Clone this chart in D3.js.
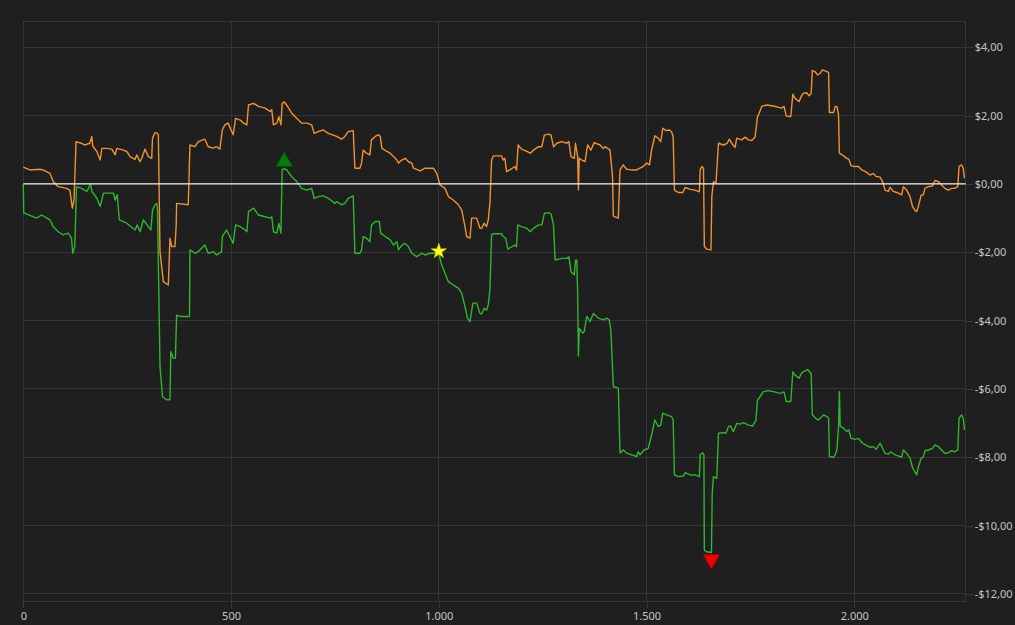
<!DOCTYPE html>
<meta charset="utf-8">
<style>
body { margin: 0; background: #1f1f1f; }
svg { display: block; background: #1f1f1f; }
.grid line { stroke: #353535; stroke-width: 1px; shape-rendering: crispEdges; }
.axis path { display: none; }
.axis line { stroke: #3a3a3a; shape-rendering: crispEdges; }
.axis text { fill: #c4c4c4; font-family: "Segoe UI", "Noto Sans", sans-serif; font-size: 11px; }
.line { fill: none; stroke-width: 1.4px; stroke-linejoin: round; }
</style>
<svg width="1015" height="625"></svg>
<script src="https://d3js.org/d3.v7.min.js"></script>
<script>
// [trade index, cumulative value in $]
var orangeSeries = [
  [0,0.49],[16,0.41],[40,0.43],[47,0.41],[64,0.31],[72,0.07],[84,-0.08],[104,-0.13],[112,-0.18],
  [118,-0.71],[122,-0.47],[127,1.24],[140,1.19],[148,1.14],[160,1.19],[165,1.39],[167,1.11],
  [177,0.95],[185,0.70],[189,1.04],[201,1.04],[213,1.02],[221,0.85],[225,1.04],[241,0.99],
  [249,0.95],[257,0.80],[269,0.72],[273,0.85],[281,0.65],[285,0.75],[293,1.02],[301,0.80],
  [309,0.75],[311,1.34],[317,1.50],[323,1.48],[325,1.43],[329,-1.98],[337,-2.86],[349,-2.96],
  [353,-1.59],[357,-1.83],[365,-1.83],[368,-1.20],[369,-0.57],[397,-0.61],[401,1.14],[413,1.09],
  [421,1.24],[437,1.31],[445,1.09],[457,1.05],[465,1.09],[473,1.02],[479,1.58],[485,1.73],
  [493,1.78],[505,1.44],[511,1.92],[522,1.87],[530,1.78],[538,1.73],[542,2.31],[554,2.36],
  [566,2.27],[582,2.22],[594,2.12],[598,2.17],[602,1.73],[610,1.78],[615,1.97],[620,1.73],
  [623,2.36],[628,2.40],[634,2.31],[646,2.07],[658,1.92],[670,1.78],[682,1.78],[694,1.73],
  [700,1.48],[710,1.53],[722,1.58],[734,1.48],[754,1.39],[766,1.31],[774,1.39],[782,1.53],
  [794,1.56],[798,0.46],[810,0.46],[814,0.61],[818,0.99],[826,0.90],[834,0.85],[838,1.29],
  [847,1.39],[855,1.44],[859,1.39],[863,1.04],[875,0.95],[883,0.90],[891,0.80],[899,0.70],
  [903,0.61],[911,0.70],[919,0.75],[927,0.65],[935,0.61],[939,0.46],[955,0.38],[967,0.46],
  [979,0.46],[987,0.46],[995,0.31],[1003,-0.03],[1015,-0.13],[1023,-0.37],[1035,-0.47],
  [1047,-0.61],[1055,-0.76],[1063,-1.25],[1067,-1.54],[1075,-1.59],[1079,-1.00],[1091,-1.00],
  [1099,-1.30],[1103,-1.30],[1109,-1.15],[1115,-1.25],[1119,-1.05],[1123,-0.57],[1127,0.70],
  [1131,0.82],[1151,0.82],[1155,0.70],[1159,0.75],[1163,0.36],[1171,0.41],[1183,0.51],
  [1187,0.41],[1191,1.14],[1199,1.02],[1212,0.95],[1220,0.90],[1228,0.99],[1240,1.09],
  [1248,1.09],[1254,1.43],[1264,1.46],[1270,1.43],[1276,1.09],[1284,1.19],[1296,1.24],
  [1308,1.19],[1313,1.24],[1318,0.80],[1326,0.75],[1329,1.19],[1334,0.80],[1336,-0.18],
  [1338,0.75],[1344,0.70],[1352,0.65],[1358,1.14],[1366,0.99],[1374,1.21],[1388,1.14],
  [1396,1.04],[1400,1.09],[1412,0.99],[1418,0.22],[1420,-0.94],[1432,-1.00],[1436,0.41],
  [1444,0.56],[1452,0.43],[1464,0.41],[1476,0.41],[1484,0.46],[1492,0.51],[1500,0.61],
  [1507,0.56],[1512,0.99],[1520,1.41],[1528,1.34],[1534,1.24],[1539,1.63],[1547,1.56],
  [1555,1.58],[1560,1.53],[1564,1.39],[1567,-0.18],[1576,-0.25],[1587,-0.25],[1593,-0.10],
  [1605,-0.16],[1617,-0.18],[1627,-0.23],[1629,0.41],[1633,0.51],[1637,0.46],[1639,-1.83],
  [1645,-1.91],[1655,-1.93],[1657,-0.37],[1661,0.07],[1667,0.02],[1673,1.19],[1685,1.14],
  [1694,1.19],[1699,1.31],[1705,1.19],[1713,1.07],[1717,1.34],[1729,1.29],[1737,1.37],
  [1745,1.29],[1753,1.27],[1761,1.37],[1767,1.97],[1771,2.07],[1777,2.27],[1789,2.31],
  [1805,2.28],[1825,2.22],[1831,2.27],[1836,1.99],[1847,1.97],[1852,2.63],[1857,2.51],
  [1867,2.41],[1872,2.56],[1877,2.65],[1885,2.67],[1891,2.58],[1896,2.64],[1899,3.32],
  [1905,3.29],[1912,3.19],[1918,3.24],[1923,3.34],[1934,3.29],[1938,3.26],[1940,2.09],
  [1950,2.09],[1954,2.27],[1958,2.27],[1962,2.02],[1964,0.90],[1974,0.82],[1982,0.75],
  [1987,0.72],[1992,0.53],[2002,0.51],[2010,0.51],[2018,0.41],[2027,0.36],[2038,0.26],
  [2046,0.31],[2052,0.22],[2062,0.20],[2068,0.07],[2074,-0.18],[2082,-0.22],[2086,-0.10],
  [2094,-0.22],[2102,-0.25],[2114,-0.32],[2118,-0.08],[2126,-0.18],[2134,-0.37],[2140,-0.66],
  [2145,-0.76],[2150,-0.81],[2154,-0.66],[2161,-0.32],[2166,-0.32],[2170,-0.13],[2178,-0.08],
  [2188,-0.06],[2194,0.10],[2202,0.07],[2210,-0.03],[2218,-0.13],[2226,-0.18],[2234,-0.13],
  [2241,-0.13],[2249,-0.08],[2252,0.51],[2258,0.56],[2262,0.46],[2265,0.17]
];

var greenSeries = [
  [0,0.00],[1,-0.85],[4,-0.86],[32,-1.00],[44,-0.91],[64,-1.05],[72,-1.25],[84,-1.40],
  [96,-1.49],[108,-1.44],[116,-1.59],[119,-2.03],[124,-1.83],[128,-0.08],[140,-0.13],
  [153,-0.22],[162,0.00],[165,-0.22],[177,-0.42],[185,-0.66],[193,-0.27],[217,-0.27],
  [221,-0.47],[226,-0.32],[231,-1.05],[249,-1.15],[269,-1.35],[274,-1.20],[281,-1.40],
  [289,-1.05],[301,-1.25],[307,-1.35],[311,-0.76],[317,-0.61],[321,-0.57],[323,-0.76],
  [329,-5.35],[335,-6.23],[345,-6.32],[353,-6.32],[355,-4.91],[361,-5.10],[366,-5.10],
  [369,-3.84],[377,-3.88],[400,-3.88],[401,-1.93],[413,-2.03],[421,-1.98],[437,-1.79],
  [445,-2.03],[457,-1.98],[465,-2.08],[477,-1.98],[479,-1.54],[489,-1.35],[497,-1.54],
  [505,-1.74],[511,-1.20],[522,-1.25],[534,-1.35],[538,-1.40],[542,-0.81],[554,-0.71],
  [566,-0.91],[582,-0.96],[594,-1.00],[598,-0.96],[602,-1.40],[610,-1.44],[615,-1.15],
  [620,-1.44],[623,0.41],[628,0.45],[634,0.41],[646,0.21],[658,0.07],[670,-0.13],
  [682,-0.18],[694,-0.13],[700,-0.42],[710,-0.37],[722,-0.35],[734,-0.42],[750,-0.57],
  [754,-0.52],[766,-0.61],[774,-0.57],[782,-0.42],[794,-0.35],[798,-2.03],[810,-2.03],
  [814,-1.93],[818,-1.54],[826,-1.59],[834,-1.69],[838,-1.20],[847,-1.10],[857,-1.10],
  [860,-1.44],[871,-1.54],[883,-1.64],[891,-1.79],[899,-1.69],[903,-1.93],[911,-1.79],
  [919,-1.74],[927,-1.84],[935,-2.03],[947,-2.13],[959,-2.03],[967,-2.08],[979,-2.03],
  [991,-2.03],[1000,-2.00],[1005,-2.30],[1015,-2.62],[1023,-2.86],[1035,-2.96],[1047,-3.05],
  [1055,-3.20],[1063,-3.59],[1069,-3.93],[1075,-4.03],[1082,-3.49],[1091,-3.49],[1099,-3.79],
  [1103,-3.81],[1109,-3.64],[1115,-3.70],[1119,-3.54],[1123,-3.10],[1127,-1.49],[1131,-1.46],
  [1151,-1.46],[1155,-1.54],[1161,-1.59],[1166,-1.91],[1175,-1.84],[1183,-1.79],[1187,-1.84],
  [1190,-1.20],[1199,-1.25],[1212,-1.30],[1220,-1.40],[1228,-1.30],[1240,-1.20],[1248,-1.20],
  [1254,-0.86],[1264,-0.84],[1270,-0.88],[1276,-1.20],[1280,-2.23],[1296,-2.18],[1308,-2.18],
  [1313,-2.13],[1318,-2.57],[1326,-2.66],[1329,-2.23],[1332,-2.23],[1334,-3.15],[1336,-5.04],
  [1338,-4.23],[1346,-4.37],[1350,-4.32],[1356,-3.88],[1364,-4.03],[1372,-3.79],[1384,-3.93],
  [1396,-3.98],[1404,-3.93],[1410,-3.98],[1414,-4.27],[1420,-5.93],[1432,-5.98],[1436,-7.88],
  [1444,-7.79],[1452,-7.88],[1464,-7.93],[1476,-7.98],[1480,-7.84],[1484,-7.93],[1494,-7.79],
  [1504,-7.74],[1512,-7.35],[1520,-6.91],[1528,-7.10],[1534,-7.06],[1539,-6.71],[1548,-6.76],
  [1560,-6.81],[1564,-6.91],[1567,-8.52],[1576,-8.57],[1589,-8.55],[1593,-8.45],[1605,-8.52],
  [1617,-8.52],[1627,-8.57],[1629,-7.93],[1635,-7.87],[1638,-7.93],[1639,-10.72],[1645,-10.77],
  [1656,-10.79],[1658,-9.06],[1661,-8.57],[1669,-8.62],[1673,-7.30],[1685,-7.28],[1691,-7.30],
  [1697,-7.10],[1702,-7.09],[1709,-7.25],[1717,-7.01],[1725,-7.03],[1733,-6.99],[1745,-7.06],
  [1755,-7.09],[1763,-6.93],[1767,-6.33],[1773,-6.23],[1781,-6.08],[1793,-6.05],[1805,-6.08],
  [1821,-6.13],[1831,-6.09],[1836,-6.37],[1847,-6.37],[1852,-5.50],[1857,-5.59],[1867,-5.69],
  [1873,-5.54],[1881,-5.47],[1888,-5.43],[1893,-5.52],[1896,-5.54],[1899,-6.76],[1907,-6.86],
  [1913,-6.91],[1922,-6.81],[1926,-6.76],[1934,-6.81],[1938,-6.86],[1940,-7.98],[1950,-8.00],
  [1954,-7.93],[1958,-7.79],[1962,-7.10],[1964,-6.08],[1966,-7.10],[1974,-7.15],[1982,-7.25],
  [1987,-7.20],[1992,-7.45],[2002,-7.48],[2010,-7.45],[2018,-7.57],[2027,-7.64],[2038,-7.71],
  [2046,-7.69],[2052,-7.77],[2062,-7.59],[2068,-7.74],[2074,-7.89],[2082,-7.91],[2088,-7.84],
  [2098,-7.93],[2114,-8.00],[2118,-7.79],[2126,-7.89],[2134,-8.03],[2140,-8.30],[2145,-8.42],
  [2150,-8.52],[2154,-8.28],[2161,-8.03],[2166,-8.00],[2170,-7.81],[2178,-7.79],[2188,-7.74],
  [2194,-7.64],[2202,-7.69],[2210,-7.79],[2218,-7.89],[2226,-7.87],[2234,-7.81],[2241,-7.84],
  [2249,-7.79],[2252,-6.86],[2258,-6.76],[2262,-6.86],[2265,-7.20]
];

var xTicks = [0, 500, 1000, 1500, 2000];
var yTicks = [4, 2, 0, -2, -4, -6, -8, -10, -12];
var starIndex = 1000;

var locale = d3.formatLocale({decimal: ",", thousands: ".", grouping: [3], currency: ["$", ""], minus: "-"});
var fmtX = locale.format(",.0f"),
    fmtY = locale.format("$,.2f");

var svg = d3.select("svg"),
    margin = {top: 21, right: 49.3, bottom: 24, left: 23.3},
    width = +svg.attr("width") - margin.left - margin.right,
    height = +svg.attr("height") - margin.top - margin.bottom,
    g = svg.append("g").attr("transform", "translate(" + margin.left + "," + margin.top + ")");

var x = d3.scaleLinear().domain([0, 2268]).range([0, width]);
var y = d3.scaleLinear().domain([-12.21, 4.77]).range([height, 0]);

// grid
g.append("g").attr("class", "grid")
  .selectAll("line").data(yTicks).enter().append("line")
    .attr("x1", 0).attr("x2", width)
    .attr("y1", function(d) { return y(d); }).attr("y2", function(d) { return y(d); });
g.append("g").attr("class", "grid")
  .selectAll("line").data(xTicks).enter().append("line")
    .attr("y1", 0).attr("y2", height)
    .attr("x1", function(d) { return x(d); }).attr("x2", function(d) { return x(d); });

g.append("rect")
    .attr("width", width).attr("height", height)
    .attr("fill", "none").attr("stroke", "#353535")
    .attr("shape-rendering", "crispEdges");

g.append("g")
    .attr("class", "axis axis--x")
    .attr("transform", "translate(0," + height + ")")
    .call(d3.axisBottom(x).tickValues(xTicks).tickFormat(fmtX).tickSize(7).tickPadding(4));

g.append("g")
    .attr("class", "axis axis--y")
    .attr("transform", "translate(" + width + ",0)")
    .call(d3.axisRight(y).tickValues(yTicks).tickFormat(fmtY).tickSize(7).tickPadding(2));

var line = d3.line()
    .x(function(d) { return x(d[0]); })
    .y(function(d) { return y(d[1]); });

g.append("path").datum(orangeSeries).attr("class", "line").attr("stroke", "#f0922e").attr("d", line);
g.append("path").datum(greenSeries).attr("class", "line").attr("stroke", "#2fb52f").attr("d", line);

// zero line
g.append("line")
    .attr("x1", 0).attr("x2", width)
    .attr("y1", y(0)).attr("y2", y(0))
    .attr("stroke", "#f2f2f2").attr("stroke-width", 1.3);

// markers: max, min, star
var maxPt = greenSeries.reduce(function(a, b) { return b[1] > a[1] ? b : a; });
var minPt = greenSeries.reduce(function(a, b) { return b[1] < a[1] ? b : a; });
var starPt = greenSeries.find(function(d) { return d[0] === starIndex; });

g.append("path")
    .attr("d", d3.symbol().type(d3.symbolTriangle).size(115))
    .attr("transform", "translate(" + x(maxPt[0]) + "," + (y(maxPt[1]) - 7) + ")")
    .attr("fill", "#077a07").attr("stroke", "#055a05");

g.append("path")
    .attr("d", d3.symbol().type(d3.symbolTriangle).size(115))
    .attr("transform", "translate(" + x(minPt[0]) + "," + (y(minPt[1]) + 7) + ") rotate(180)")
    .attr("fill", "#f00000").attr("stroke", "#b00000");

g.append("path")
    .attr("d", d3.symbol().type(d3.symbolStar).size(75))
    .attr("transform", "translate(" + x(starPt[0]) + "," + (y(starPt[1]) - 1) + ")")
    .attr("fill", "#ffff1a").attr("stroke", "#c8c800").attr("stroke-width", 0.5);
</script>
